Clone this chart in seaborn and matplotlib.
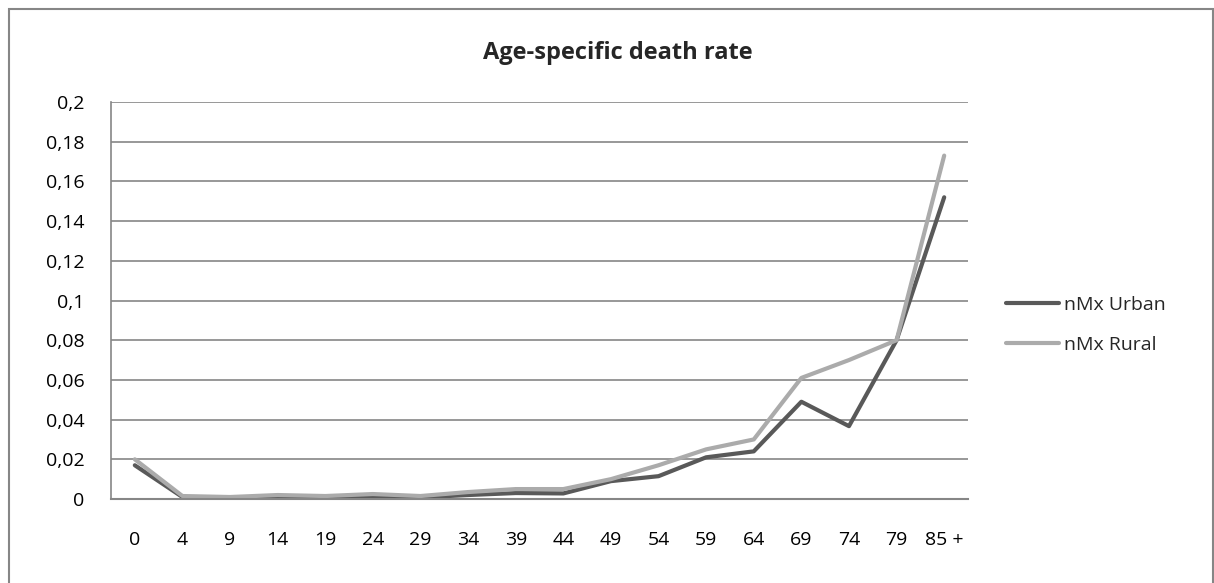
import matplotlib
matplotlib.use('Agg')
import matplotlib.pyplot as plt
import matplotlib.patches as mpatches
import seaborn as sns
import pandas as pd

ages = ['0', '4', '9', '14', '19', '24', '29', '34', '39', '44',
        '49', '54', '59', '64', '69', '74', '79', '85 +']
urban = [0.017, 0.001, 0.0005, 0.0007, 0.0007, 0.001, 0.0008, 0.002, 0.003, 0.0028,
         0.009, 0.0115, 0.021, 0.024, 0.049, 0.0367, 0.080, 0.152]
rural = [0.020, 0.0015, 0.001, 0.002, 0.0015, 0.0025, 0.0015, 0.0035, 0.005, 0.005,
         0.010, 0.017, 0.025, 0.030, 0.061, 0.070, 0.080, 0.173]
series = ['nMx Urban', 'nMx Rural']
colors = ['#595959', '#ababab']
yticks = [0, 0.02, 0.04, 0.06, 0.08, 0.1, 0.12, 0.14, 0.16, 0.18, 0.2]

df = pd.DataFrame({
    'age': ages * 2,
    'rate': urban + rural,
    'series': [series[0]] * len(ages) + [series[1]] * len(ages),
})

sns.set_style('white')
plt.rcParams['font.family'] = ['Open Sans', 'DejaVu Sans']

fig = plt.figure(figsize=(12.14, 5.83), dpi=100)
ax = fig.add_axes([111 / 1214, 1 - 499 / 583, (968 - 111) / 1214, (499 - 102) / 583])

sns.lineplot(data=df, x='age', y='rate', hue='series', palette=colors,
             sort=False, linewidth=3, ax=ax, legend=True)

ax.set_xlim(-0.5, len(ages) - 0.5)
ax.set_ylim(0, 0.2)
ax.set_yticks(yticks)
ax.set_yticklabels([('%g' % v).replace('.', ',') for v in yticks])
ax.set_xticks(range(len(ages)))
ax.set_xticklabels(ages)
ax.grid(axis='y', color='#868686', linewidth=1.2)
ax.set_axisbelow(True)
for side in ['top', 'right']:
    ax.spines[side].set_visible(False)
ax.spines['left'].set_color('#868686')
ax.spines['bottom'].set_color('#868686')
ax.spines['left'].set_linewidth(1.2)
ax.spines['bottom'].set_linewidth(1.5)
ax.tick_params(axis='both', length=0, labelsize=14, colors='black')
ax.tick_params(axis='y', pad=19)
ax.tick_params(axis='x', pad=23)
ax.set_xlabel('')
ax.set_ylabel('')

ax.legend(title=None, frameon=False, fontsize=14, loc='center left',
          bbox_to_anchor=(1006 / 1214, 1 - 325 / 583), bbox_transform=fig.transFigure,
          handlelength=2.7, handletextpad=0.3, labelspacing=1.1, borderaxespad=0,
          borderpad=0)

fig.text(618 / 1214, 1 - 53 / 583, 'Age-specific death rate', ha='center', va='center',
         fontsize=17, fontweight='bold')

fig.patches.append(mpatches.Rectangle((8.5 / 1214, -0.1), (1213 - 8.5) / 1214, 1.1 - 8.5 / 583,
                                      transform=fig.transFigure, fill=False,
                                      edgecolor='#868686', linewidth=1.5, clip_on=False))

fig.savefig('out.png', dpi=100)
